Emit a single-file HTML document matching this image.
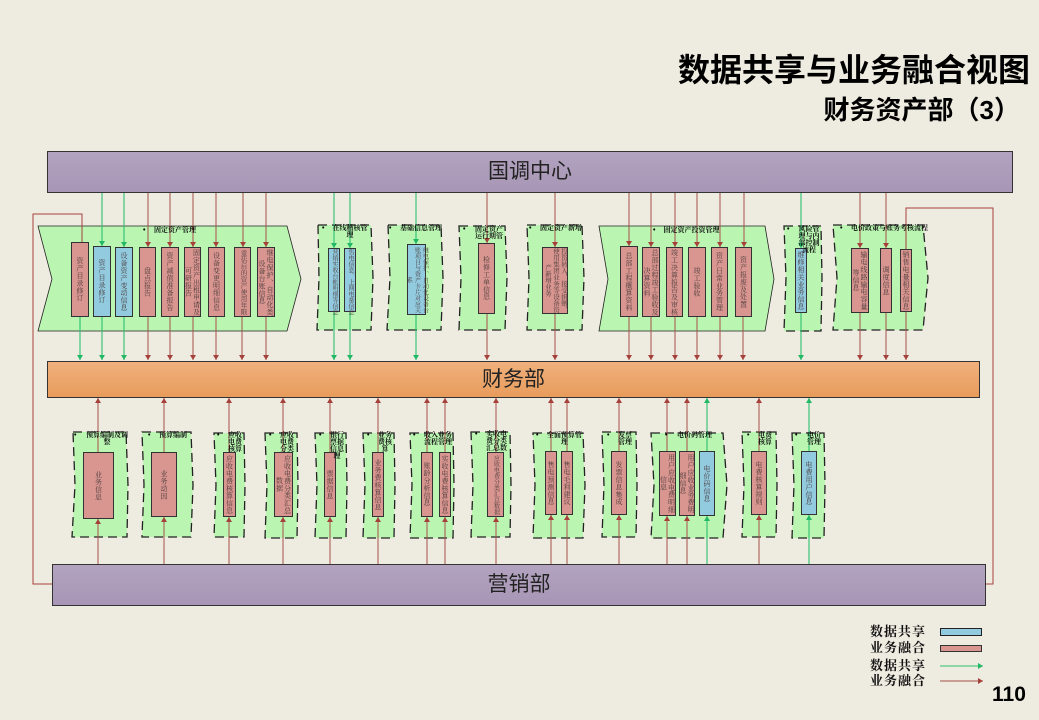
<!DOCTYPE html>
<html lang="zh"><head><meta charset="utf-8"><title>数据共享与业务融合视图</title>
<style>
html,body{margin:0;padding:0;background:#eeebe0}
#s{position:relative;width:1039px;height:720px;overflow:hidden;background:#eeebe0;font-family:"Liberation Sans","Noto Sans CJK SC",sans-serif}
svg{position:absolute;left:0;top:0}
.bar{position:absolute;box-sizing:border-box;border:1px solid #333;display:flex;align-items:center;justify-content:center;padding-bottom:4px;font-family:"Liberation Sans","WenQuanYi Zen Hei","Noto Sans CJK SC",sans-serif;font-size:21px;color:#222}
.pu{background:linear-gradient(#b2a3c0,#a796b5)}
.or{background:linear-gradient(#f0b07c,#e89c5c)}
.b{position:absolute;box-sizing:border-box;border:1.5px solid #333;display:flex;align-items:center;justify-content:center;overflow:visible}
.r{background:#d9958f}.u{background:#92cbdf}
.b p{margin:0;writing-mode:vertical-rl;text-orientation:upright;max-height:100%;text-align:center;font-size:7px;line-height:8px;letter-spacing:.4px;color:#4a3c3c;font-family:"Liberation Serif","Noto Serif CJK SC",serif;white-space:normal}
.b p.n{font-size:6px;letter-spacing:0;white-space:nowrap}
.b p.m{font-size:6px;letter-spacing:0}
.t{position:absolute;font:bold 7px/7px "Liberation Serif","Noto Serif CJK SC",serif;color:#111;white-space:pre;text-align:center}
.d{position:absolute;font:bold 7px/7px "Liberation Sans",sans-serif;color:#000}
.l{position:absolute;left:870px;font:bold 13px/14px "Liberation Serif","Noto Serif CJK SC",serif;letter-spacing:1px;color:#111;white-space:nowrap}
</style></head><body><div id="s">
<svg width="1039" height="720" viewBox="0 0 1039 720">
<defs>
<marker id="mg" markerUnits="userSpaceOnUse" markerWidth="6" markerHeight="6" refX="5" refY="3" orient="auto"><path d="M0 0L5 3L0 6Z" fill="#22b866"/></marker>
<marker id="mr" markerUnits="userSpaceOnUse" markerWidth="6" markerHeight="6" refX="5" refY="3" orient="auto"><path d="M0 0L5 3L0 6Z" fill="#a5403a"/></marker>
</defs>
<g fill="#baf6b2" stroke="none">
<polygon points="38,226 287,226 301,279 287,331 38,331 52,279"/>
<polygon points="599,226 765,226 774,279 765,331 599,331 608,279"/>
</g>
<g fill="none" stroke="#222" stroke-width=".8"><polygon points="38,226 287,226 301,279 287,331 38,331 52,279"/><polygon points="599,226 765,226 774,279 765,331 599,331 608,279"/></g>
<g fill="#baf6b2" stroke="#222" stroke-width="1.3" stroke-dasharray="9 5">
<path d="M318 225H371L373 278L371 330H317L319 278Z"/>
<path d="M388 225H441L443 278L441 330H387L390 278Z"/>
<path d="M459 226H505L507 278L505 330H459L461 278Z"/>
<path d="M527 225H582L584 278L582 330H527L529 278Z"/>
<path d="M784 226H821L822 278L821 331H784L786 278Z"/>
<path d="M833 225H923L928 278L923 330H833L837 278Z"/>
<path d="M73 432H126L128 485L127 537H72L75 485Z"/>
<path d="M142 432H191L193 485L191 537H142L144 485Z"/>
<path d="M214 433H244L245 485L244 537H214L216 485Z"/>
<path d="M265 433H297L298 485L297 538H265L267 485Z"/>
<path d="M315 433H346L347 485L346 538H315L317 485Z"/>
<path d="M363 433H394L395 485L394 538H363L365 485Z"/>
<path d="M410 433H453L454 485L453 538H410L412 485Z"/>
<path d="M471 432H510L511 485L510 537H471L473 485Z"/>
<path d="M533 433H583L585 485L583 538H533L535 485Z"/>
<path d="M602 432H636L637 485L636 537H602L604 485Z"/>
<path d="M651 433H723L727 485L723 538H651L654 485Z"/>
<path d="M742 432H776L777 485L776 537H742L744 485Z"/>
<path d="M792 433H824L825 485L824 538H792L794 485Z"/>
</g>
<g fill="none" stroke="#a5403a" stroke-width="1">
<path d="M82 243V214H33V584H52"/>
<path d="M906 250V208H993V584H986"/>
</g>
<g fill="none" stroke="#2dbf70" stroke-width="1.1">
<path d="M102 193V246" marker-end="url(#mg)"/><path d="M124 193V247" marker-end="url(#mg)"/>
<path d="M80 317V360" marker-end="url(#mg)"/><path d="M102 317V360" marker-end="url(#mg)"/><path d="M124 317V360" marker-end="url(#mg)"/>
<path d="M334 193V248" marker-end="url(#mg)"/><path d="M334 312V360" marker-end="url(#mg)"/>
<path d="M350 193V248" marker-end="url(#mg)"/><path d="M350 312V360" marker-end="url(#mg)"/>
<path d="M416 193V244" marker-end="url(#mg)"/><path d="M416 315V360" marker-end="url(#mg)"/>
<path d="M801 193V248" marker-end="url(#mg)"/><path d="M801 313V360" marker-end="url(#mg)"/>
<path d="M707 452V398" marker-end="url(#mg)"/><path d="M707 564V516" marker-end="url(#mg)"/>
<path d="M809 452V398" marker-end="url(#mg)"/><path d="M809 564V515" marker-end="url(#mg)"/>
<path d="M940 666H983" marker-end="url(#mg)"/>
</g>
<g fill="none" stroke="#a8504a" stroke-width="1">
<path d="M148 193V247" marker-end="url(#mr)"/><path d="M170 193V247" marker-end="url(#mr)"/><path d="M193 193V247" marker-end="url(#mr)"/><path d="M216 193V247" marker-end="url(#mr)"/><path d="M243 193V247" marker-end="url(#mr)"/><path d="M266 193V247" marker-end="url(#mr)"/>
<path d="M148 317V360" marker-end="url(#mr)"/><path d="M170 317V360" marker-end="url(#mr)"/><path d="M193 317V360" marker-end="url(#mr)"/><path d="M216 317V360" marker-end="url(#mr)"/><path d="M242 317V360" marker-end="url(#mr)"/><path d="M266 317V360" marker-end="url(#mr)"/>
<path d="M487 193V243" marker-end="url(#mr)"/><path d="M487 314V360" marker-end="url(#mr)"/>
<path d="M555 193V247" marker-end="url(#mr)"/><path d="M555 314V360" marker-end="url(#mr)"/>
<path d="M629 193V246" marker-end="url(#mr)"/><path d="M651 193V247" marker-end="url(#mr)"/><path d="M675 193V247" marker-end="url(#mr)"/><path d="M697 193V247" marker-end="url(#mr)"/><path d="M720 193V247" marker-end="url(#mr)"/><path d="M744 193V247" marker-end="url(#mr)"/>
<path d="M629 317V360" marker-end="url(#mr)"/><path d="M651 317V360" marker-end="url(#mr)"/><path d="M675 317V360" marker-end="url(#mr)"/><path d="M697 317V360" marker-end="url(#mr)"/><path d="M720 317V360" marker-end="url(#mr)"/><path d="M743 317V360" marker-end="url(#mr)"/>
<path d="M860 193V248" marker-end="url(#mr)"/><path d="M886 193V248" marker-end="url(#mr)"/>
<path d="M860 313V360" marker-end="url(#mr)"/><path d="M886 313V360" marker-end="url(#mr)"/><path d="M906 312V360" marker-end="url(#mr)"/>
<path d="M98 452V398" marker-end="url(#mr)"/><path d="M98 564V519" marker-end="url(#mr)"/>
<path d="M164 452V398" marker-end="url(#mr)"/><path d="M164 564V517" marker-end="url(#mr)"/>
<path d="M229 452V398" marker-end="url(#mr)"/><path d="M229 564V517" marker-end="url(#mr)"/>
<path d="M283 452V398" marker-end="url(#mr)"/><path d="M283 564V517" marker-end="url(#mr)"/>
<path d="M330 452V398" marker-end="url(#mr)"/><path d="M330 564V517" marker-end="url(#mr)"/>
<path d="M378 452V398" marker-end="url(#mr)"/><path d="M378 564V517" marker-end="url(#mr)"/>
<path d="M427 452V398" marker-end="url(#mr)"/><path d="M427 564V517" marker-end="url(#mr)"/>
<path d="M445 452V398" marker-end="url(#mr)"/><path d="M445 564V517" marker-end="url(#mr)"/>
<path d="M496 452V398" marker-end="url(#mr)"/><path d="M496 564V517" marker-end="url(#mr)"/>
<path d="M551 452V398" marker-end="url(#mr)"/><path d="M551 564V515" marker-end="url(#mr)"/>
<path d="M567 452V398" marker-end="url(#mr)"/><path d="M567 564V515" marker-end="url(#mr)"/>
<path d="M619 452V398" marker-end="url(#mr)"/><path d="M619 564V515" marker-end="url(#mr)"/>
<path d="M667 452V398" marker-end="url(#mr)"/><path d="M667 564V516" marker-end="url(#mr)"/>
<path d="M687 452V398" marker-end="url(#mr)"/><path d="M687 564V516" marker-end="url(#mr)"/>
<path d="M759 452V398" marker-end="url(#mr)"/><path d="M759 564V515" marker-end="url(#mr)"/>
<path d="M940 681H983" marker-end="url(#mr)"/>
</g>
<rect x="940.5" y="628.5" width="41" height="7" fill="#92cbdf" stroke="#222"/>
<rect x="940.5" y="645.5" width="41" height="6" fill="#d9958f" stroke="#333"/>
</svg>

<div style="position:absolute;left:640px;top:50px;width:390px;text-align:right;font:bold 32px/40px 'Liberation Sans','Noto Sans CJK SC',sans-serif;color:#000;white-space:nowrap">数据共享与业务融合视图</div>
<div style="position:absolute;left:765px;top:92px;width:255px;text-align:right;font:bold 26px/36px 'Liberation Sans','Noto Sans CJK SC',sans-serif;color:#000;white-space:nowrap">财务资产部（3）</div>

<div class="bar pu" style="left:47px;top:151px;width:966px;height:42px">国调中心</div>
<div class="bar or" style="left:47px;top:361px;width:933px;height:37px">财务部</div>
<div class="bar pu" style="left:52px;top:564px;width:934px;height:42px">营销部</div>

<div class="b r" style="left:71px;top:242px;width:18px;height:75px"><p>资产目录修订</p></div>
<div class="b u" style="left:93px;top:246px;width:18px;height:71px"><p>资产目录修订</p></div>
<div class="b u" style="left:115px;top:247px;width:18px;height:70px"><p>设备资产变动信息</p></div>
<div class="b r" style="left:139px;top:247px;width:17px;height:70px"><p>盘点报告</p></div>
<div class="b r" style="left:161px;top:247px;width:18px;height:70px"><p>资产减值准备报告</p></div>
<div class="b r" style="left:184px;top:247px;width:17px;height:70px"><p>固定资产出租申请及可研报告</p></div>
<div class="b r" style="left:208px;top:247px;width:17px;height:70px"><p>设备变更明细信息</p></div>
<div class="b r" style="left:234px;top:247px;width:17px;height:70px"><p class="n" style="font-size:6.5px">重估后的资产使用年限</p></div>
<div class="b r" style="left:257px;top:247px;width:18px;height:70px"><p>继电保护、自动化类设备台账信息</p></div>

<div class="b u" style="left:328px;top:248px;width:12px;height:64px"><p class="n">营销实收台帐明细等信息</p></div>
<div class="b u" style="left:344px;top:248px;width:12px;height:64px"><p class="n">售电信息、上网电量信息</p></div>
<div class="b u" style="left:407px;top:244px;width:19px;height:71px"><p class="m">继电保护、自动化设备台账项目与资产卡片对应关系</p></div>
<div class="b r" style="left:478px;top:243px;width:17px;height:71px"><p>检修工单信息</p></div>
<div class="b r" style="left:542px;top:247px;width:26px;height:67px"><p class="m" style="font-size:6.5px">投资转入、接受捐赠、使用集团业务等设备资产新增业务</p></div>

<div class="b r" style="left:620px;top:246px;width:18px;height:71px"><p>总部工程概算资料</p></div>
<div class="b r" style="left:642px;top:247px;width:18px;height:70px"><p>总部过程竣工验收及决算资料</p></div>
<div class="b r" style="left:666px;top:247px;width:17px;height:70px"><p>竣工决算报告及审核</p></div>
<div class="b r" style="left:688px;top:247px;width:18px;height:70px"><p>竣工验收</p></div>
<div class="b r" style="left:711px;top:247px;width:17px;height:70px"><p>资产日常业务管理</p></div>
<div class="b r" style="left:735px;top:247px;width:17px;height:70px"><p>资产报废及处置</p></div>

<div class="b u" style="left:795px;top:248px;width:12px;height:65px"><p>维修相关业务信息</p></div>
<div class="b r" style="left:851px;top:248px;width:18px;height:65px"><p>输电线路输电容量等信息</p></div>
<div class="b r" style="left:880px;top:248px;width:12px;height:65px"><p>调度信息</p></div>
<div class="b r" style="left:900px;top:249px;width:12px;height:63px"><p>销售电量相关信息</p></div>

<div class="b r" style="left:83px;top:452px;width:31px;height:67px"><p>业务信息</p></div>
<div class="b r" style="left:151px;top:452px;width:26px;height:65px"><p>业务动因</p></div>
<div class="b r" style="left:223px;top:452px;width:13px;height:65px"><p>应收电费核算信息</p></div>
<div class="b r" style="left:274px;top:452px;width:19px;height:65px"><p>应收电费分类汇总数据</p></div>
<div class="b r" style="left:324px;top:452px;width:12px;height:65px"><p>票据信息</p></div>
<div class="b r" style="left:372px;top:452px;width:12px;height:65px"><p>业务费核算信息</p></div>
<div class="b r" style="left:421px;top:452px;width:12px;height:65px"><p>账龄分析信息</p></div>
<div class="b r" style="left:439px;top:452px;width:12px;height:65px"><p>实收电费核算信息</p></div>
<div class="b r" style="left:487px;top:452px;width:17px;height:65px"><p class="n">应收电费分类汇总数据</p></div>
<div class="b r" style="left:545px;top:451px;width:12px;height:64px"><p>售电预测信息</p></div>
<div class="b r" style="left:561px;top:451px;width:12px;height:64px"><p>售电毛利建议</p></div>
<div class="b r" style="left:611px;top:451px;width:16px;height:64px"><p>发票信息集成</p></div>
<div class="b r" style="left:659px;top:451px;width:17px;height:65px"><p>用户应收电费明细信息</p></div>
<div class="b r" style="left:679px;top:451px;width:16px;height:65px"><p>用户应收业务费明细信息</p></div>
<div class="b u" style="left:699px;top:451px;width:16px;height:65px"><p>电价码信息</p></div>
<div class="b r" style="left:751px;top:451px;width:16px;height:64px"><p>电费核算规则</p></div>
<div class="b u" style="left:801px;top:451px;width:16px;height:64px"><p>电费用户信息</p></div>

<div class="d" style="left:143px;top:227px">•</div><div class="t" style="left:153px;top:227px;width:44px">固定资产管理</div>
<div class="d" style="left:322px;top:225px">•</div><div class="t" style="left:330px;top:225px;width:40px">在线稽核管
理</div>
<div class="d" style="left:389px;top:225px">•</div><div class="t" style="left:399px;top:225px;width:44px">基础信息管理</div>
<div class="d" style="left:463px;top:226px">•</div><div class="t" style="left:474px;top:226px;width:30px">固定资产
运行期管</div>
<div class="d" style="left:529px;top:225px">•</div><div class="t" style="left:539px;top:225px;width:44px">固定资产新增</div>
<div class="d" style="left:653px;top:227px">•</div><div class="t" style="left:663px;top:227px;width:57px">固定资产投资管理</div>
<div class="d" style="left:787px;top:226px">•</div><div class="t" style="left:797px;top:226px;width:24px">风险管
理与内
部控制
流程</div>
<div class="d" style="left:840px;top:225px">•</div><div class="t" style="left:851px;top:225px;width:72px">电价政策与账务考核流程</div>

<div class="d" style="left:74px;top:432px">•</div><div class="t" style="left:85px;top:432px;width:44px">预算编制及调
整</div>
<div class="d" style="left:148px;top:432px">•</div><div class="t" style="left:158px;top:432px;width:30px">预算编制</div>
<div class="d" style="left:217px;top:432px">•</div><div class="t" style="left:227px;top:432px;width:16px">应收
电费
核算</div>
<div class="d" style="left:269px;top:432px">•</div><div class="t" style="left:279px;top:432px;width:16px">应收
电费
分类</div>
<div class="d" style="left:319px;top:432px">•</div><div class="t" style="left:329px;top:432px;width:16px">银行
票据
信息
理</div>
<div class="d" style="left:367px;top:432px">•</div><div class="t" style="left:377px;top:432px;width:16px">业务
费核
算</div>
<div class="d" style="left:413px;top:432px">•</div><div class="t" style="left:423px;top:432px;width:30px">收入业务
流程管理</div>
<div class="d" style="left:475px;top:431px">•</div><div class="t" style="left:485px;top:431px;width:23px">实收电
费分类
汇总数</div>
<div class="d" style="left:536px;top:432px">•</div><div class="t" style="left:546px;top:432px;width:37px">全面预算管
理</div>
<div class="d" style="left:607px;top:432px">•</div><div class="t" style="left:617px;top:432px;width:16px">发票
管理</div>
<div class="d" style="left:665px;top:432px">•</div><div class="t" style="left:676px;top:432px;width:37px">电价码管理</div>
<div class="d" style="left:747px;top:432px">•</div><div class="t" style="left:757px;top:432px;width:16px">电费
核算</div>
<div class="d" style="left:795px;top:432px">•</div><div class="t" style="left:806px;top:432px;width:16px">电价
管理</div>

<div class="l" style="top:625px">数据共享</div>
<div class="l" style="top:641px">业务融合</div>
<div class="l" style="top:659px">数据共享</div>
<div class="l" style="top:674px">业务融合</div>
<div style="position:absolute;left:992px;top:683px;font:bold 21px/24px 'Liberation Sans',sans-serif;color:#000">110</div>
</div></body></html>
